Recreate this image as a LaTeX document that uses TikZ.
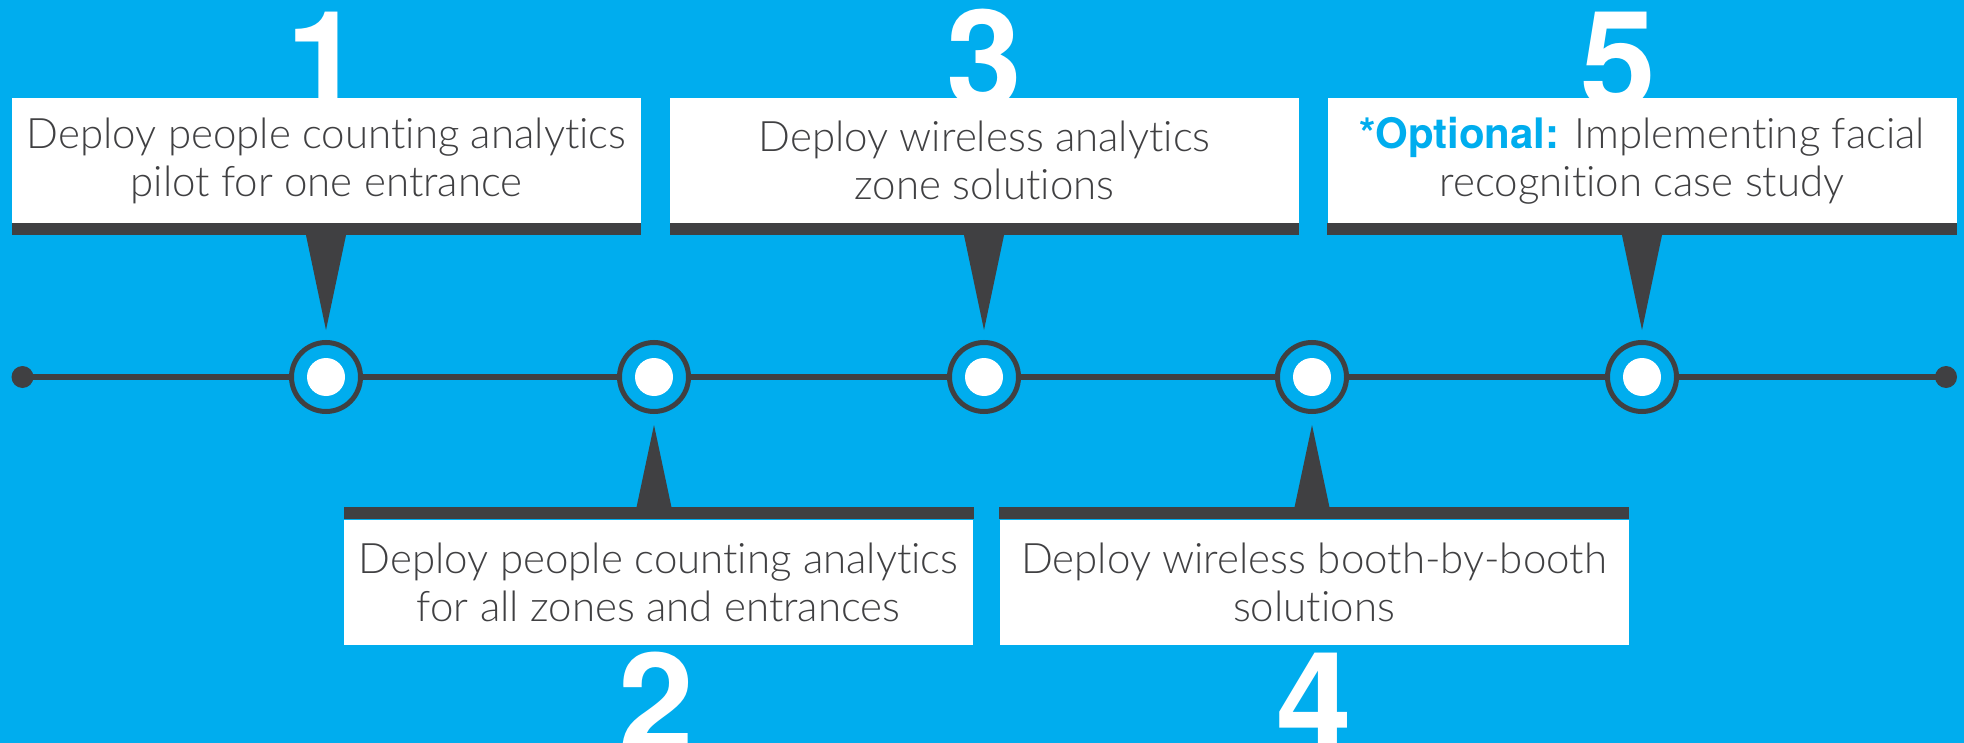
\documentclass[tikz,border=0pt]{standalone}
\usepackage{fontspec}
\setmainfont{TeX Gyre Heros}
\newfontfamily\lightfont{Lato Light}[Ligatures={NoCommon,NoRare}]
\definecolor{bg}{HTML}{00ADEE}
\definecolor{dk}{HTML}{404042}
\definecolor{tx}{HTML}{404042}
\begin{document}
\begin{tikzpicture}[x=0.5pt,y=-0.5pt,
  box/.style={fill=white, minimum width=314.5pt, minimum height=62.5pt, inner sep=0pt,
    align=center, text=tx, font=\lightfont\fontsize{21}{24}\selectfont},
  ring/.style={circle, draw=dk, line width=2.5pt, fill=bg, minimum size=34.5pt, inner sep=0pt},
  enddot/.style={circle, fill=dk, minimum size=11pt, inner sep=0pt},
  digit/.style={text=white, inner sep=0pt, font=\fontsize{68}{68}\selectfont\bfseries},
  bar/.style={fill=dk},
  pointer/.style={fill=dk}
]
\path[use as bounding box] (0,0) rectangle (1964,743);
\clip (0,0) rectangle (1964,743);
\fill[bg] (0,0) rectangle (1964,743);

% digits (behind boxes)
\node[digit, anchor=north] (d1) at (324,12) {1};
\node[digit, anchor=north] (d3) at (984,9) {3};
\node[digit, anchor=north] (d5) at (1618,12) {5};
\node[digit, anchor=north] (d2) at (656,652) {2};
\node[digit, anchor=north] (d4) at (1314,653) {4};

% timeline
\node[enddot] (e1) at (22.5,377) {};
\node[enddot] (e2) at (1946,377) {};
\draw[dk, line width=2.75pt] (e1.center) -- (e2.center);

\foreach \i/\x in {1/326,2/654,3/984,4/1312,5/1642}{
  \node[ring] (c\i) at (\x,377) {};
  \fill[white] (c\i.center) circle[radius=9.5pt];
}

% boxes
\node[box] (b1) at (326.5,160.5) {Deploy people counting analytics\\pilot for one entrance};
\node[box] (b3) at (984.5,160.5) {Deploy wireless analytics\\zone solutions};
\node[box] (b5) at (1642,160.5) {\textcolor{bg}{\fontspec{TeX Gyre Heros}\bfseries *Optional:} Implementing facial\\recognition case study};
\node[box] (b2) at (658.6,582) {Deploy people counting analytics\\for all zones and entrances};
\node[box] (b4) at (1314,582) {Deploy wireless booth-by-booth\\solutions};

% bars and pointers, top
\foreach \i in {1,3,5}{
  \fill[bar] (b\i.south west) rectangle ([yshift=-6pt]b\i.south east);
  \coordinate (p\i) at (c\i |- b\i.south);
  \fill[pointer] ([xshift=-10pt,yshift=-5.9pt]p\i) -- ([xshift=10pt,yshift=-5.9pt]p\i)
     -- ([yshift=5pt]c\i.north) -- cycle;
}
% bars and pointers, bottom
\foreach \i in {2,4}{
  \fill[bar] (b\i.north west) rectangle ([yshift=6pt]b\i.north east);
  \coordinate (p\i) at (c\i |- b\i.north);
  \fill[pointer] ([xshift=-8.75pt,yshift=5.9pt]p\i) -- ([xshift=8.75pt,yshift=5.9pt]p\i)
     -- ([yshift=-5.5pt]c\i.south) -- cycle;
}
\end{tikzpicture}
\end{document}
